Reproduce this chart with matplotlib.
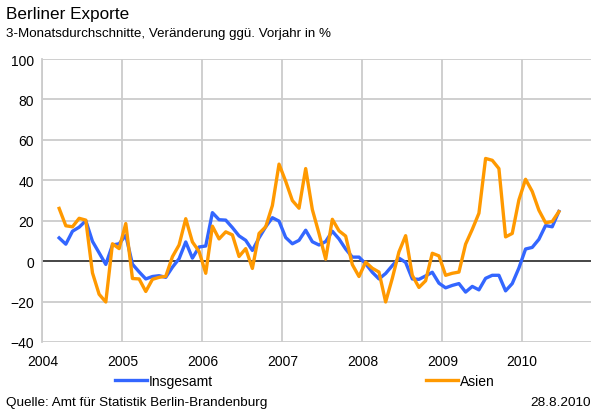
"""
Berliner Exporte — 3-Monatsdurchschnitte, Veränderung ggü. Vorjahr
"""
import numpy as np
import matplotlib.pyplot as plt
from matplotlib.lines import Line2D

plt.rcParams['font.family'] = ['Liberation Sans', 'DejaVu Sans']

# Monatswerte März 2004 bis Juni 2010
start_year, start_month = 2004, 3

insgesamt = [
    11.5, 8.4, 14.8, 16.8, 20.0, 9.8, 4.1, -1.6, 8.0, 8.6,
    12.8, -1.5, -5.3, -8.8, -7.6, -7.2, -8.0, -3.0, 1.2, 9.5,
    1.5, 7.0, 7.5, 24.0, 20.5, 20.3, 16.6, 12.5, 10.3, 5.3,
    11.5, 17.0, 21.5, 19.8, 11.7, 8.6, 10.3, 15.3, 9.6, 8.0,
    9.7, 14.8, 11.0, 6.0, 2.0, 2.0, -1.3, -5.5, -8.8, -6.1,
    -2.2, 1.5, -0.6, -8.8, -9.0, -7.3, -5.5, -10.9, -13.2, -12.0,
    -11.1, -15.3, -12.5, -14.2, -8.5, -7.0, -7.0, -14.7, -11.1, -3.4,
    6.0, 6.8, 10.8, 17.6, 17.0, 24.6,
]

asien = [
    26.1, 17.5, 17.0, 21.2, 20.3, -5.8, -16.4, -20.2, 8.6, 6.2,
    18.6, -8.6, -8.8, -15.0, -9.0, -8.0, -7.5, 2.2, 8.0, 21.0,
    9.5, 4.8, -6.0, 17.3, 11.0, 14.5, 13.0, 2.3, 6.2, -3.6,
    13.7, 17.0, 27.5, 48.0, 39.5, 30.0, 26.2, 45.8, 25.5, 13.7,
    1.0, 20.7, 15.0, 12.4, -1.7, -7.6, -0.5, -3.5, -5.4, -20.2,
    -8.5, 4.6, 12.6, -7.0, -13.0, -9.7, 3.9, 2.6, -7.0, -6.0,
    -5.4, 8.4, 15.7, 23.7, 50.8, 49.9, 45.8, 12.0, 13.7, 30.3,
    40.5, 34.5, 25.2, 19.0, 19.6, 24.5,
]

jahre = list(range(2004, 2011))
y_ticks = list(range(-40, 101, 20))

# Zeitachse: Monatsmitte
t = start_year + (start_month - 1 + 0.5 + np.arange(len(insgesamt))) / 12

BLAU = '#3366ff'
ORANGE = '#ff9900'
GRID = '#cccccc'

fig = plt.figure(figsize=(5.96, 4.14), dpi=100)
ax = fig.add_axes([0.0713, 0.1715, 0.9203, 0.6835])

ax.set_xlim(2004, 2010.86)
ax.set_ylim(-40, 100)
ax.set_xticks(jahre)
ax.set_yticks(y_ticks)
ax.set_xticklabels([str(j) for j in jahre])
ax.grid(True, color=GRID, linewidth=1.3)
ax.set_axisbelow(True)
ax.axhline(0, color='#222222', linewidth=1.1, zorder=2)

for s in ax.spines.values():
    s.set_visible(False)
ax.spines['left'].set_visible(True)
ax.spines['left'].set_color(GRID)
ax.spines['left'].set_linewidth(1.3)
ax.tick_params(length=0, labelsize=10, colors='black')
ax.tick_params(axis='x', pad=8.5)
ax.tick_params(axis='y', pad=6)

ax.plot(t, insgesamt, color=BLAU, linewidth=2.4, solid_joinstyle='round', zorder=3)
ax.plot(t, asien, color=ORANGE, linewidth=2.4, solid_joinstyle='round', zorder=4)

# Titel
fig.text(0.010, 0.966, 'Berliner Exporte', fontsize=12.3, va='center', ha='left')
fig.text(0.010, 0.919, '3-Monatsdurchschnitte, Veränderung ggü. Vorjahr in %',
         fontsize=9.6, va='center', ha='left')

# Legende
handles = [Line2D([], [], color=BLAU, linewidth=2.4),
           Line2D([], [], color=ORANGE, linewidth=2.4)]
fig.legend(handles, ['Insgesamt', 'Asien'], loc='center left',
           bbox_to_anchor=(0.193, 0.077), ncol=2, frameon=False,
           fontsize=10, handlelength=2.3, handletextpad=0.15,
           columnspacing=15.3, borderpad=0, borderaxespad=0)

# Quelle / Datum
fig.text(0.010, 0.027, 'Quelle: Amt für Statistik Berlin-Brandenburg', fontsize=9.7,
         va='center', ha='left')
fig.text(0.992, 0.027, '28.8.2010', fontsize=9.7, va='center', ha='right')

fig.savefig('out.png', dpi=100)
